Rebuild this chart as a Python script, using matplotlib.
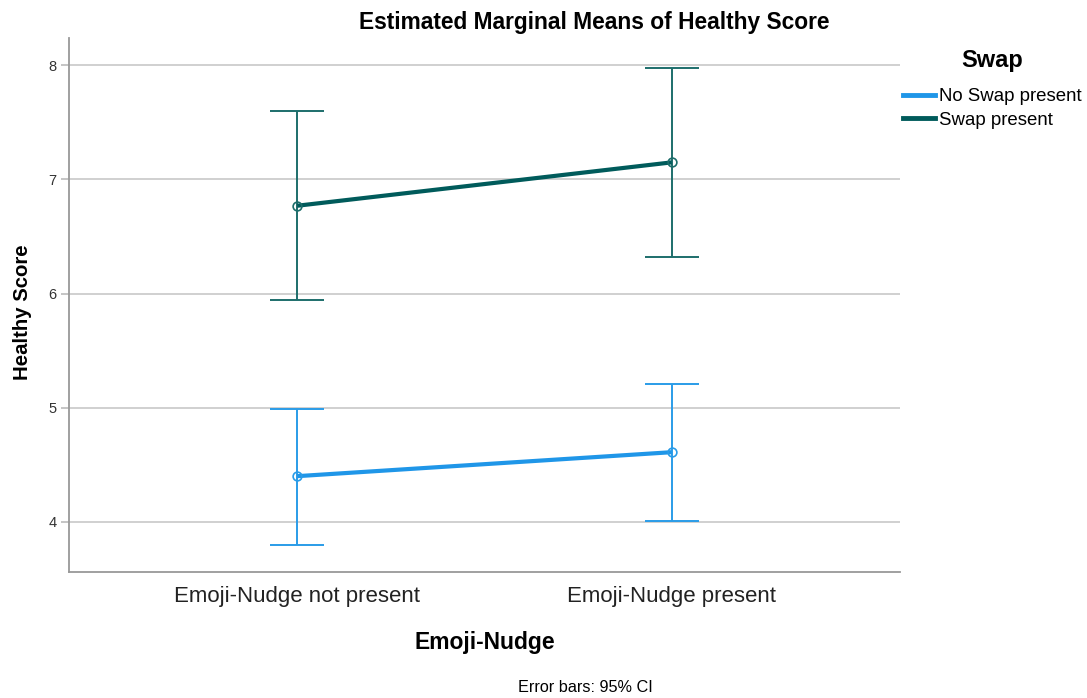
import matplotlib
matplotlib.use("Agg")
import matplotlib.pyplot as plt
from matplotlib.lines import Line2D

categories = ["Emoji-Nudge not present", "Emoji-Nudge present"]
series_names = ["No Swap present", "Swap present"]
no_swap_mean = [4.40, 4.61]
no_swap_lo = [3.80, 4.01]
no_swap_hi = [4.99, 5.21]
swap_mean = [6.77, 7.15]
swap_lo = [5.94, 6.32]
swap_hi = [7.60, 7.98]
yticks = [4, 5, 6, 7, 8]

colors = ["#1f96e8", "#005b5b"]
errcolors = ["#2a9ce8", "#1d6e6b"]

plt.rcParams['font.family'] = ['Liberation Sans', 'DejaVu Sans']

fig = plt.figure(figsize=(10.87, 6.98), dpi=100)
ax = fig.add_axes([69/1087, 1-572/698, (900-69)/1087, (572-38)/698])

x = list(range(len(categories)))
data = [(no_swap_mean, no_swap_lo, no_swap_hi), (swap_mean, swap_lo, swap_hi)]
for i, (m, lo, hi) in enumerate(data):
    yerr = [[mm - l for mm, l in zip(m, lo)], [h - mm for mm, h in zip(m, hi)]]
    ax.errorbar(x, m, yerr=yerr, fmt='none', ecolor=errcolors[i], elinewidth=1.4,
                capsize=19.5, capthick=1.4, zorder=3)
    ax.plot(x, m, color=colors[i], lw=3.0, zorder=4, solid_capstyle='butt')
    ax.plot(x, m, 'o', ms=6.3, mfc='none', mec=errcolors[i], mew=1.2, zorder=5)

ax.set_xlim(-0.61, 1.61)
ax.set_ylim(3.56, 8.24)
ax.set_yticks(yticks)
ax.set_yticklabels([str(t) for t in yticks], fontsize=10.5)
ax.set_xticks(x)
ax.set_xticklabels(categories, fontsize=16, color='#222222')
ax.tick_params(axis='x', length=0, pad=10)
ax.tick_params(axis='y', length=6, color='#bbbbbb', width=1.2, pad=3, labelcolor='#333333')
ax.yaxis.grid(True, color='#c8c8c8', lw=1.2)
ax.set_axisbelow(True)
for s in ['top', 'right']:
    ax.spines[s].set_visible(False)
for s in ['left', 'bottom']:
    ax.spines[s].set_color('#999999')
    ax.spines[s].set_linewidth(1.3)

ax.set_ylabel("Healthy Score", fontsize=14.7, fontweight='bold')
ax.yaxis.label.set_verticalalignment('center')
ax.yaxis.set_label_coords(-47/831, 0.487)
ax.set_xlabel("Emoji-Nudge", fontsize=16.5, fontweight='bold', labelpad=17)

fig.text(594/1087, 1-22/698, "Estimated Marginal Means of Healthy Score",
         ha='center', va='center', fontsize=16.4, fontweight='bold')
fig.text(585/1087, 1-687/698, "Error bars: 95% CI", ha='center', va='center', fontsize=11.7)

fig.text(992/1087, 1-60/698, "Swap", ha='center', va='center', fontsize=17, fontweight='bold')
handles = [Line2D([0], [0], color=c, lw=3.5) for c in colors]
leg = fig.legend(handles, series_names, loc='upper left', bbox_to_anchor=(903/1087, 1-88/698),
                 frameon=False, fontsize=13.4, handlelength=1.7,
                 handletextpad=0.25, labelspacing=0.36, borderpad=0, borderaxespad=0)

fig.savefig("out.png", dpi=100)
